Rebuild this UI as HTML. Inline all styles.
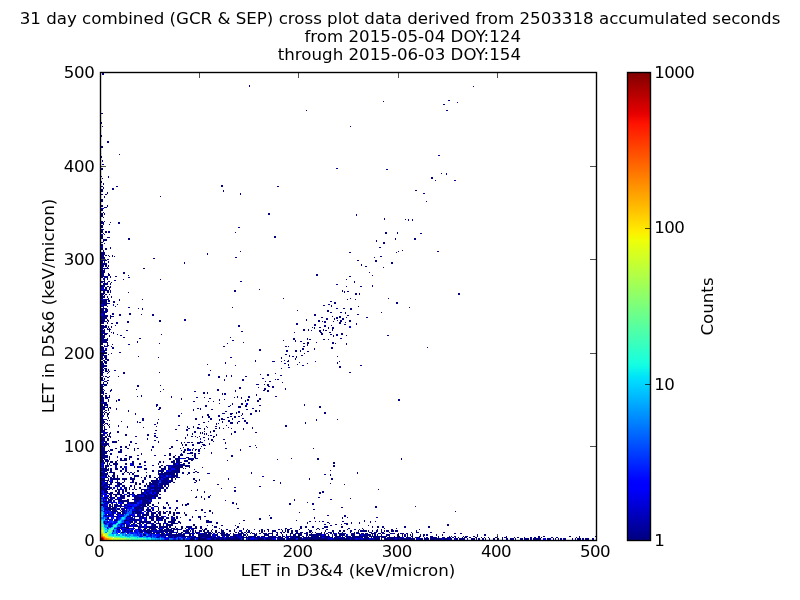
<!DOCTYPE html>
<html><head><meta charset="utf-8"><style>
html,body{margin:0;padding:0;background:#fff;width:800px;height:600px;overflow:hidden}
svg{display:block}
text{font-family:"DejaVu Sans","Liberation Sans",sans-serif;font-size:16.67px;fill:#000}
.t{letter-spacing:-0.6px}.ty{letter-spacing:-0.3px}
</style></head><body>
<svg width="800" height="600" viewBox="0 0 800 600">

<text x="400" y="24" text-anchor="middle">31 day combined (GCR &amp; SEP) cross plot data derived from 2503318 accumulated seconds</text>
<text x="521" y="42" text-anchor="end">from 2015-05-04 DOY:124</text>
<text x="521" y="60" text-anchor="end">through 2015-06-03 DOY:154</text>
<g fill="none" stroke-width="1" shape-rendering="crispEdges"><path stroke="#000080" d="M102 73.5h2m-2 1h2m145 11h1m-1 1h1m223 0h1m-26 14h2m-67 1h1m73 1h1m-15 2h2m-139 6h1m139 0h2m-347 3h2m-2 9h1m-1 1h1m0 3h1m247 0h1m-250 9h1m-1 1h1m5 5h2m-2 1h2m-8 4h2m-2 1h2m16 7h1m318 1h2m-339 1h1m-1 1h1m0 3h1m-1 1h1m-1 3h2m-3 4h2m233 0h2m-237 1h2m283 0h2m53 4h1m4 0h1m-1 1h1m-346 2h1m6 0h1m-1 1h1m322 0h2m-331 1h1m328 0h2m2 2h1m18 0h2m-355 1h1m-1 1h1m1 1h1m-1 1h1m117 1h2m-122 1h2m13 0h2m103 0h2m54 0h2m-176 1h1m-1 1h1m8 0h2m-13 1h2m9 0h2m-13 1h2m120 0h1m191 0h2m-316 1h2m120 0h1m-117 1h1m-1 1h1m132 0h1m182 0h2m-324 1h2m2 0h2m133 0h1m-137 2h1m55 0h1m-57 1h1m-4 2h2m-2 1h2m-2 1h2m323 0h1m-326 4h2m4 0h1m-7 1h2m4 0h1m-4 1h3m-4 1h1m-3 1h2m-2 1h2m0 2h1m-3 1h2m1 0h1m163 0h2m-169 1h2m1 0h1m163 0h2m86 0h1m-256 1h2m253 0h1m-256 1h2m0 1h1m280 1h1m-1 1h1m20 0h1m2 0h1m3 0h1m-5 1h1m3 0h1m-312 1h2m1 0h1m-4 1h3m6 0h1m7 0h2m-19 1h3m14 0h2m-17 1h1m5 0h1m-9 1h2m-2 1h2m-2 1h2m135 0h2m-139 2h3m-3 1h2m-2 1h2m2 0h2m1 0h2m-9 1h2m2 0h2m1 0h2m125 0h1m149 0h2m10 0h1m-295 1h1m281 0h2m10 0h1m22 0h2m-318 1h1m-4 1h2m-2 1h2m171 0h2m-175 1h2m4 0h3m164 0h2m-175 1h2m25 0h2m265 0h1m18 0h2m-313 1h4m21 0h2m265 0h1m18 0h2m-313 1h4m269 0h1m-274 1h1m272 0h1m-276 1h2m280 0h2m-281 1h1m278 0h2m-284 1h2m-2 1h2m7 2h1m268 0h2m-280 1h2m2 0h2m3 0h1m-10 1h2m2 0h2m-4 1h1m298 0h1m-300 1h1m136 0h1m157 0h1m38 0h2m-338 1h4m244 0h2m45 0h1m-296 1h4m102 0h1m-107 1h4m102 0h1m-107 1h3m1 0h2m1 0h1m3 0h1m-12 1h3m5 0h1m2 0h1m1 0h1m265 0h2m-281 1h4m130 0h2m137 0h1m-274 1h4m48 0h2m-48 1h2m-8 1h6m250 0h2m16 0h2m-276 1h2m1 0h1m3 0h1m266 0h2m-276 1h2m1 0h1m3 0h1m75 0h1m206 0h2m-292 1h6m77 0h1m206 0h2m-292 1h6m254 0h1m-261 1h3m1 0h2m1 0h1m252 0h1m-261 1h3m1 0h2m1 0h1m256 0h2m-266 1h2m4 0h1m275 0h1m-283 1h8m34 0h2m-44 1h2m-2 1h4m-4 1h4m-4 1h4m18 0h2m244 0h1m-269 1h3m4 0h1m14 0h2m-24 1h3m4 0h2m206 0h2m-217 1h3m4 0h2m18 0h1m187 0h2m54 0h1m-272 1h7m2 0h1m4 0h2m232 0h2m-250 1h2m2 0h3m2 0h1m17 0h2m-26 1h1m2 0h1m-4 1h1m2 0h1m15 0h1m36 0h1m185 0h1m-243 1h1m9 0h2m-15 1h4m3 0h2m130 0h2m112 0h1m-248 1h1m3 0h1m242 0h1m-252 1h5m2 0h1m-8 1h5m2 0h1m225 0h2m-237 1h4m267 0h1m-272 1h2m1 0h1m2 0h2m1 0h1m235 0h1m13 0h2m10 0h1m-270 1h1m1 0h2m2 0h2m-8 1h1m1 0h2m2 0h1m-6 1h3m2 0h1m149 0h1m-159 1h8m1 0h1m123 0h2m106 0h1m-240 1h2m2 0h2m1 0h1m123 0h2m106 0h1m1 0h1m2 0h2m-246 1h2m2 0h2m1 0h1m17 0h1m215 0h1m-244 1h4m250 0h2m2 0h1m98 0h2m-359 1h3m1 0h2m2 0h1m245 0h2m2 0h1m98 0h2m-359 1h2m1 0h1m-4 1h4m2 0h1m3 0h1m-11 1h4m2 0h1m3 0h1m-11 1h2m5 0h1m174 0h1m66 0h1m37 0h1m-286 1h6m10 0h1m22 0h1m204 0h1m7 0h1m-255 1h6m1 0h2m9 0h1m-19 1h6m1 0h2m3 0h2m215 0h2m-231 1h6m6 0h2m219 0h2m60 0h2m-297 1h9m224 0h2m60 0h2m-295 1h4m10 0h1m210 0h2m-227 1h4m216 0h2m6 0h1m-231 1h3m3 0h1m7 0h1m215 0h1m26 0h1m-256 1h1m24 0h2m102 0h1m176 0h1m-309 1h6m31 0h1m3 0h1m193 0h2m5 0h2m5 0h2m-251 1h3m1 0h3m34 0h1m207 0h2m-251 1h3m1 0h3m189 0h1m29 0h2m-228 1h3m1 0h3m219 0h2m-228 1h6m223 0h2m8 0h2m3 0h1m35 0h1m-279 1h2m7 0h2m15 0h2m214 0h1m-243 1h2m7 0h2m5 0h2m8 0h2m10 0h1m10 0h2m160 0h2m41 0h2m-256 1h5m2 0h1m8 0h2m31 0h2m160 0h2m31 0h2m-248 1h7m2 0h4m218 0h1m6 0h2m-240 1h6m3 0h1m210 0h2m13 0h2m1 0h2m5 0h1m19 0h2m-267 1h6m3 0h1m215 0h2m6 0h1m1 0h2m4 0h2m-243 1h4m2 0h1m76 0h2m120 0h1m19 0h2m6 0h1m7 0h2m-243 1h4m2 0h2m50 0h2m23 0h2m120 0h1m11 0h2m17 0h1m2 0h2m7 0h2m-250 1h6m1 0h1m18 0h2m30 0h2m157 0h2m2 0h1m1 0h2m7 0h1m6 0h2m7 0h2m-250 1h3m3 0h1m8 0h2m9 0h2m195 0h2m13 0h2m4 0h1m-245 1h3m3 0h1m3 0h2m3 0h2m178 0h2m41 0h2m15 0h1m-61 1h2m16 0h2m28 0h2m10 0h1m-256 1h3m1 0h2m8 0h1m122 0h2m74 0h2m8 0h2m5 0h1m-231 1h6m1 0h1m2 0h1m126 0h2m84 0h2m-225 1h6m1 0h1m2 0h1m200 0h1m1 0h1m4 0h2m7 0h1m3 0h2m-233 1h3m3 0h1m1 0h1m204 0h1m13 0h1m3 0h2m-230 1h1m2 0h4m192 0h2m3 0h1m14 0h1m8 0h1m-232 1h4m4 0h1m16 0h2m175 0h2m3 0h1m2 0h1m7 0h2m2 0h1m1 0h2m5 0h1m-232 1h4m4 0h1m131 0h2m76 0h2m-220 1h2m1 0h1m6 0h1m1 0h1m180 0h1m25 0h2m7 0h2m-230 1h7m5 0h1m207 0h2m18 0h2m-242 1h2m1 0h3m10 0h1m43 0h1m159 0h2m7 0h2m4 0h2m3 0h2m-242 1h4m4 0h1m10 0h2m211 0h1m2 0h2m8 0h1m40 0h2m-288 1h4m4 0h1m223 0h1m-233 1h4m18 0h2m105 0h1m-130 1h3m3 0h1m31 0h2m152 0h2m12 0h1m32 0h2m-241 1h7m185 0h2m12 0h1m1 0h2m12 0h2m3 0h1m-228 1h7m124 0h2m49 0h1m11 0h1m-195 1h6m30 0h1m157 0h1m4 0h2m-201 1h7m29 0h1m105 0h1m63 0h2m7 0h1m15 0h2m-233 1h2m4 0h1m51 0h1m67 0h1m75 0h2m2 0h2m23 0h2m1 0h1m10 0h1m-246 1h2m4 0h1m4 0h1m15 0h2m177 0h1m38 0h1m-240 1h2m198 0h1m-207 1h2m1 0h4m3 0h1m111 0h2m60 0h2m1 0h1m14 0h2m-204 1h3m8 0h2m217 0h2m94 0h1m-327 1h3m8 0h2m188 0h2m10 0h1m16 0h2m-232 1h3m155 0h2m41 0h2m10 0h1m-214 1h6m152 0h2m25 0h2m7 0h2m3 0h1m-198 1h2m181 0h2m7 0h2m3 0h1m6 0h2m-208 1h6m12 0h2m-20 1h6m4 0h1m192 0h1m-204 1h3m4 0h1m176 0h2m-186 1h6m182 0h1m11 0h2m-202 1h2m1 0h3m31 0h1m150 0h1m2 0h2m2 0h1m40 0h1m-237 1h2m1 0h3m51 0h1m71 0h2m49 0h1m14 0h1m-196 1h3m1 0h2m174 0h1m13 0h1m-195 1h2m2 0h4m186 0h1m-193 1h2m2 0h2m146 0h1m28 0h1m3 0h1m-188 1h2m1 0h3m148 0h1m16 0h3m6 0h1m5 0h2m26 0h1m23 0h1m-239 1h2m1 0h3m118 0h1m73 0h1m37 0h1m-237 1h3m1 0h2m118 0h1m58 0h2m21 0h1m29 0h1m-237 1h3m103 0h1m80 0h1m8 0h1m-197 1h6m128 0h1m52 0h1m13 0h2m56 0h2m-261 1h6m232 0h2m-240 1h3m184 0h2m49 0h2m-240 1h2m1 0h3m174 0h1m-181 1h3m1 0h2m1 0h1m-8 1h3m1 0h2m1 0h1m5 0h2m94 0h1m-110 1h2m2 0h3m1 0h1m-9 1h3m4 0h1m14 0h2m34 0h1m189 0h2m-250 1h2m4 0h1m15 0h2m150 0h1m-175 1h2m105 0h2m50 0h1m6 0h2m-168 1h2m105 0h2m16 0h1m4 0h1m35 0h2m11 0h2m-177 1h2m2 0h1m8 0h1m99 0h2m6 0h1m4 0h1m13 0h2m-146 1h2m4 0h2m109 0h2m-119 1h2m1 0h1m157 0h2m-163 1h2m1 0h1m119 0h1m17 0h2m31 0h1m1 0h2m-178 1h2m4 0h2m115 0h1m17 0h2m-140 1h3m158 0h1m3 0h2m-168 1h1m3 0h1m174 0h1m-180 1h1m3 0h1m-7 1h6m149 0h3m5 0h1m2 0h2m-165 1h3m30 0h2m21 0h1m106 0h2m-168 1h3m33 0h2m129 0h2m2 0h2m-173 1h2m136 0h2m17 0h1m13 0h2m-173 1h2m136 0h2m23 0h2m19 0h1m-185 1h3m7 0h1m24 0h1m26 0h1m53 0h2m45 0h2m19 0h1m-185 1h2m7 0h2m105 0h2m16 0h1m27 0h2m2 0h2m-168 1h3m6 0h1m49 0h1m33 0h2m39 0h1m31 0h2m-168 1h3m99 0h2m2 0h1m-107 1h3m1 0h2m96 0h2m2 0h1m14 0h1m1 0h2m-123 1h1m118 0h1m1 0h2m30 0h1m-156 1h2m2 0h2m2 0h1m31 0h1m114 0h1m-156 1h2m2 0h2m2 0h1m27 0h1m3 0h1m29 0h1m65 0h1m10 0h2m25 0h2m-176 1h3m1 0h5m61 0h1m24 0h2m6 0h1m29 0h1m2 0h1m3 0h1m6 0h2m-149 1h3m1 0h3m73 0h1m27 0h2m30 0h1m17 0h2m-160 1h3m4 0h1m9 0h2m61 0h1m37 0h1m4 0h1m22 0h2m10 0h2m137 0h2m-299 1h3m4 0h1m7 0h1m1 0h2m99 0h1m25 0h1m1 0h2m8 0h2m139 0h2m-299 1h3m4 0h1m7 0h1m76 0h2m13 0h1m4 0h1m31 0h1m11 0h2m-156 1h4m-6 1h6m112 0h1m12 0h1m8 0h2m-142 1h2m1 0h4m48 0h2m74 0h1m8 0h2m61 0h1m-204 1h2m1 0h4m48 0h2m47 0h2m23 0h1m14 0h2m12 0h2m43 0h1m-204 1h4m2 0h1m48 0h1m48 0h2m21 0h2m8 0h3m4 0h2m72 0h2m-220 1h7m1 0h2m48 0h2m77 0h3m78 0h2m-220 1h4m3 0h1m1 0h1m5 0h1m42 0h2m36 0h2m1 0h1m51 0h2m-153 1h4m3 0h1m7 0h1m41 0h2m33 0h1m6 0h1m10 0h2m33 0h2m-147 1h2m2 0h2m1 0h1m19 0h1m64 0h1m61 0h2m2 0h1m-159 1h2m1 0h1m23 0h1m96 0h2m11 0h2m15 0h2m2 0h1m-159 1h3m1 0h2m2 0h1m126 0h1m1 0h2m84 0h2m-225 1h2m1 0h1m2 0h2m26 0h1m45 0h1m40 0h3m5 0h3m3 0h1m5 0h1m7 0h2m72 0h2m-225 1h2m1 0h1m2 0h2m26 0h1m71 0h2m21 0h2m10 0h1m7 0h2m-151 1h3m3 0h1m70 0h2m27 0h2m9 0h2m21 0h1m-141 1h2m4 0h1m70 0h2m22 0h1m5 0h2m8 0h2m10 0h2m2 0h2m2 0h2m-139 1h2m5 0h1m93 0h1m5 0h2m17 0h2m5 0h2m-135 1h2m5 0h1m33 0h2m51 0h2m13 0h2m9 0h2m9 0h1m9 0h2m-143 1h6m35 0h2m14 0h1m36 0h2m13 0h2m7 0h1m1 0h4m7 0h1m83 0h1m20 0h1m-237 1h3m3 0h1m1 0h1m32 0h2m75 0h1m8 0h2m14 0h2m70 0h1m-216 1h4m16 0h1m15 0h1m70 0h1m13 0h1m5 0h2m8 0h2m4 0h2m-145 1h4m32 0h1m1 0h2m16 0h1m45 0h2m17 0h1m7 0h3m4 0h1m8 0h2m57 0h1m-205 1h3m1 0h3m49 0h1m58 0h1m1 0h1m11 0h3m4 0h1m8 0h2m57 0h1m-205 1h2m1 0h1m2 0h1m1 0h1m44 0h2m42 0h2m16 0h1m-116 1h3m4 0h1m9 0h1m59 0h2m46 0h1m58 0h2m-186 1h2m1 0h1m4 0h1m8 0h1m8 0h1m28 0h1m30 0h1m5 0h1m12 0h1m8 0h2m68 0h2m-186 1h2m1 0h1m4 0h1m17 0h1m15 0h1m43 0h1m5 0h1m3 0h2m8 0h1m11 0h1m8 0h1m23 0h1m-152 1h2m1 0h1m83 0h2m7 0h4m3 0h1m10 0h2m2 0h1m3 0h1m7 0h1m11 0h1m8 0h1m-152 1h2m1 0h3m68 0h2m9 0h2m16 0h1m38 0h1m-143 1h4m50 0h2m29 0h2m25 0h2m-114 1h4m12 0h2m75 0h2m8 0h1m5 0h1m2 0h2m19 0h2m-135 1h2m2 0h3m2 0h1m6 0h2m75 0h2m4 0h1m1 0h1m7 0h1m23 0h2m19 0h2m-154 1h2m4 0h2m43 0h2m36 0h1m7 0h1m1 0h1m1 0h1m1 0h1m24 0h1m-131 1h3m3 0h1m1 0h1m15 0h2m20 0h2m38 0h1m4 0h1m11 0h1m1 0h1m9 0h1m14 0h1m-131 1h3m3 0h1m1 0h1m15 0h2m20 0h2m5 0h2m31 0h1m20 0h1m1 0h2m4 0h1m-116 1h2m2 0h2m1 0h3m24 0h2m17 0h2m35 0h2m2 0h1m3 0h1m13 0h2m-114 1h6m3 0h1m45 0h2m27 0h1m11 0h1m5 0h2m8 0h1m-113 1h4m2 0h2m38 0h1m37 0h1m22 0h1m-108 1h4m2 0h2m38 0h1m60 0h1m2 0h2m10 0h2m-124 1h4m2 0h2m9 0h1m35 0h2m20 0h2m33 0h2m-112 1h2m1 0h3m5 0h5m13 0h2m26 0h1m41 0h1m12 0h1m-111 1h1m1 0h2m5 0h5m13 0h2m26 0h1m22 0h1m2 0h1m2 0h3m1 0h2m4 0h6m22 0h1m-125 1h7m27 0h2m44 0h1m15 0h3m9 0h1m15 0h1m-125 1h7m21 0h1m52 0h1m2 0h2m5 0h2m8 0h3m4 0h1m-109 1h2m1 0h3m1 0h1m20 0h1m52 0h1m2 0h2m5 0h2m9 0h3m49 0h1m-152 1h1m4 0h1m10 0h2m3 0h2m25 0h2m17 0h2m28 0h1m47 0h2m-150 1h4m15 0h2m3 0h2m25 0h2m17 0h2m10 0h1m72 0h1m-156 1h4m10 0h2m10 0h2m5 0h1m2 0h2m30 0h2m9 0h1m6 0h2m4 0h1m6 0h1m3 0h1m20 0h2m86 0h1m-213 1h4m5 0h3m7 0h2m12 0h1m16 0h1m32 0h2m1 0h1m4 0h1m2 0h2m1 0h2m40 0h1m-140 1h4m3 0h1m1 0h3m7 0h2m12 0h1m16 0h1m29 0h1m2 0h2m1 0h1m4 0h1m2 0h1m2 0h2m40 0h1m-140 1h7m1 0h1m8 0h4m61 0h2m13 0h2m-99 1h6m11 0h4m61 0h2m5 0h3m18 0h1m-111 1h6m3 0h2m29 0h1m27 0h2m16 0h6m1 0h2m2 0h2m11 0h1m-111 1h4m5 0h2m29 0h1m27 0h2m9 0h3m11 0h2m-95 1h7m17 0h2m10 0h2m15 0h2m8 0h2m3 0h2m4 0h1m4 0h3m9 0h1m1 0h2m35 0h2m-132 1h7m1 0h1m19 0h3m41 0h2m3 0h2m14 0h2m35 0h2m-132 1h7m1 0h1m19 0h3m41 0h2m3 0h2m6 0h3m5 0h2m-95 1h4m4 0h1m10 0h2m2 0h3m2 0h1m7 0h2m30 0h2m4 0h5m3 0h3m2 0h6m1 0h3m93 0h1m25 0h2m82 0h1m-301 1h2m1 0h4m1 0h1m10 0h2m2 0h3m2 0h1m7 0h2m30 0h2m4 0h5m8 0h6m83 0h1m39 0h2m82 0h1m-301 1h3m1 0h4m8 0h1m2 0h7m46 0h2m1 0h4m4 0h4m3 0h2m34 0h1m-127 1h3m1 0h4m1 0h3m2 0h2m15 0h2m10 0h2m13 0h2m2 0h1m7 0h4m1 0h4m4 0h4m-87 1h2m1 0h1m2 0h1m2 0h3m2 0h2m15 0h2m10 0h2m13 0h2m2 0h1m7 0h4m1 0h6m6 0h2m143 0h2m-232 1h2m2 0h1m1 0h1m3 0h5m7 0h2m5 0h2m5 0h2m17 0h1m14 0h3m2 0h2m3 0h2m3 0h2m143 0h2m-228 1h1m1 0h1m3 0h5m7 0h2m5 0h2m5 0h2m17 0h1m14 0h3m2 0h6m-81 1h1m1 0h4m1 0h2m3 0h2m13 0h2m12 0h2m6 0h2m7 0h2m3 0h5m2 0h17m143 0h2m-232 1h1m1 0h4m11 0h2m2 0h1m9 0h1m2 0h2m2 0h1m17 0h2m3 0h2m2 0h1m2 0h12m2 0h5m143 0h2m-232 1h1m1 0h2m13 0h2m2 0h1m9 0h1m2 0h2m2 0h1m17 0h2m3 0h2m2 0h1m2 0h12m6 0h1m12 0h1m-102 1h6m1 0h1m1 0h2m3 0h3m4 0h2m20 0h3m14 0h5m2 0h3m4 0h5m3 0h1m1 0h1m-85 1h8m1 0h2m3 0h3m4 0h2m20 0h3m14 0h5m2 0h3m4 0h5m14 0h1m-94 1h8m1 0h2m8 0h2m3 0h2m10 0h2m13 0h2m4 0h6m4 0h1m2 0h9m150 0h1m-228 1h4m3 0h2m8 0h2m3 0h2m10 0h2m13 0h2m4 0h6m4 0h1m2 0h9m15 0h2m-96 1h2m4 0h1m1 0h6m9 0h1m2 0h2m1 0h2m2 0h1m11 0h1m11 0h1m2 0h2m1 0h16m2 0h2m4 0h2m3 0h2m2 0h2m52 0h1m105 0h1m-257 1h7m5 0h2m7 0h2m5 0h1m2 0h2m24 0h17m1 0h2m4 0h2m4 0h2m17 0h3m41 0h1m105 0h1m-257 1h7m5 0h2m7 0h2m5 0h1m2 0h2m24 0h17m1 0h2m9 0h1m136 0h2m4 0h1m-230 1h3m1 0h2m1 0h1m3 0h3m2 0h1m16 0h5m7 0h1m2 0h2m8 0h2m2 0h3m2 0h1m2 0h7m152 0h1m-228 1h1m1 0h2m1 0h2m2 0h3m2 0h1m16 0h5m7 0h1m2 0h2m8 0h2m2 0h3m2 0h1m2 0h7m84 0h2m-159 1h3m2 0h2m1 0h2m2 0h1m12 0h2m2 0h1m6 0h1m2 0h2m3 0h2m3 0h2m2 0h5m3 0h9m1 0h4m-79 1h4m3 0h1m1 0h10m2 0h5m3 0h5m9 0h2m10 0h2m1 0h2m2 0h6m2 0h2m2 0h1m17 0h2m33 0h1m80 0h1m21 0h2m-232 1h4m3 0h1m1 0h10m2 0h5m3 0h5m9 0h2m10 0h2m1 0h2m2 0h6m2 0h2m2 0h1m17 0h2m4 0h1m28 0h1m80 0h1m21 0h2m-232 1h8m3 0h1m4 0h1m6 0h1m7 0h2m8 0h2m7 0h8m2 0h7m1 0h4m22 0h2m2 0h1m73 0h2m-172 1h2m2 0h1m1 0h1m2 0h1m4 0h1m6 0h1m7 0h2m8 0h2m7 0h8m2 0h7m1 0h4m23 0h1m-96 1h2m2 0h3m2 0h3m2 0h5m2 0h2m6 0h4m1 0h2m5 0h2m5 0h2m1 0h7m2 0h10m2 0h2m19 0h2m84 0h1m-180 1h2m2 0h3m2 0h2m5 0h5m13 0h2m2 0h2m5 0h1m2 0h9m1 0h9m112 0h1m49 0h1m-230 1h2m1 0h3m1 0h4m5 0h5m13 0h2m2 0h2m5 0h1m2 0h9m1 0h9m49 0h2m125 0h1m-242 1h5m1 0h1m5 0h2m1 0h2m2 0h3m5 0h2m2 0h1m9 0h2m1 0h4m3 0h4m1 0h4m1 0h2m2 0h1m-68 1h4m2 0h3m5 0h2m1 0h2m2 0h3m5 0h2m2 0h1m9 0h2m1 0h4m3 0h4m1 0h4m1 0h2m2 0h1m90 0h2m-160 1h4m2 0h5m12 0h3m2 0h1m4 0h1m4 0h2m8 0h15m2 0h2m66 0h2m-135 1h7m1 0h3m12 0h3m2 0h1m4 0h1m4 0h2m8 0h15m2 0h2m53 0h1m-121 1h9m2 0h1m4 0h5m3 0h2m2 0h1m2 0h2m1 0h2m4 0h10m3 0h4m1 0h2m3 0h2m31 0h1m180 0h1m-276 1h4m8 0h2m1 0h2m2 0h2m1 0h2m14 0h1m2 0h3m2 0h2m1 0h9m3 0h2m25 0h1m5 0h1m36 0h2m-132 1h4m7 0h2m1 0h2m2 0h2m1 0h2m14 0h1m2 0h3m2 0h2m1 0h9m3 0h2m38 0h1m29 0h2m86 0h2m-220 1h4m2 0h3m4 0h3m2 0h2m3 0h3m2 0h2m7 0h3m2 0h3m3 0h2m2 0h3m45 0h1m114 0h2m1 0h2m-223 1h2m4 0h6m4 0h3m2 0h2m3 0h3m2 0h2m7 0h3m2 0h3m3 0h2m2 0h3m160 0h2m-216 1h2m2 0h3m1 0h9m8 0h2m2 0h1m2 0h9m1 0h5m2 0h4m1 0h2m-53 1h1m1 0h2m3 0h2m3 0h5m2 0h3m4 0h5m2 0h1m2 0h14m52 0h1m-103 1h1m1 0h2m3 0h2m3 0h5m2 0h3m4 0h5m2 0h1m2 0h14m38 0h1m4 0h1m6 0h2m-106 1h4m1 0h3m1 0h2m2 0h1m2 0h4m10 0h18m2 0h2m2 0h3m34 0h2m4 0h1m6 0h2m108 0h2m-216 1h3m1 0h1m1 0h2m1 0h2m2 0h1m2 0h4m10 0h18m2 0h2m2 0h3m43 0h1m145 0h1m-248 1h1m4 0h4m3 0h2m1 0h4m5 0h2m3 0h14m1 0h5m52 0h1m89 0h1m35 0h2m-229 1h1m4 0h4m6 0h11m6 0h4m3 0h7m2 0h1m24 0h2m47 0h1m68 0h1m-192 1h6m1 0h2m6 0h11m6 0h4m3 0h7m2 0h1m24 0h2m-75 1h1m3 0h4m1 0h1m9 0h2m3 0h2m1 0h7m5 0h9m7 0h1m7 0h2m64 0h2m73 0h1m-203 1h2m5 0h1m9 0h2m3 0h2m1 0h7m5 0h9m7 0h1m7 0h2m19 0h2m43 0h2m2 0h1m52 0h2m21 0h2m-213 1h2m1 0h1m4 0h2m1 0h1m1 0h4m2 0h2m2 0h3m12 0h7m1 0h2m3 0h2m14 0h1m13 0h1m2 0h4m47 0h1m52 0h2m21 0h2m-213 1h2m1 0h1m4 0h2m1 0h1m1 0h8m2 0h3m12 0h7m1 0h2m3 0h2m14 0h1m13 0h1m2 0h2m-84 1h1m1 0h3m1 0h2m1 0h1m1 0h3m1 0h4m2 0h1m2 0h2m1 0h2m5 0h4m1 0h5m2 0h2m3 0h4m5 0h1m211 0h2m38 0h1m-309 1h4m1 0h5m3 0h1m4 0h2m7 0h10m7 0h1m6 0h1m4 0h3m10 0h2m163 0h2m32 0h2m-272 1h2m1 0h8m1 0h3m2 0h2m1 0h2m7 0h10m7 0h1m6 0h1m4 0h3m10 0h2m59 0h2m-134 1h2m1 0h8m1 0h3m2 0h3m1 0h1m8 0h4m2 0h3m2 0h5m1 0h2m4 0h1m16 0h1m25 0h2m110 0h2m-208 1h1m1 0h2m1 0h5m5 0h3m1 0h1m8 0h4m2 0h3m2 0h5m1 0h2m4 0h1m16 0h1m19 0h2m4 0h2m6 0h2m-107 1h1m6 0h7m3 0h4m1 0h1m5 0h9m6 0h2m2 0h1m4 0h2m1 0h2m2 0h1m2 0h2m1 0h2m38 0h2m244 0h1m-348 1h1m3 0h2m4 0h3m1 0h3m7 0h2m1 0h7m4 0h3m2 0h5m2 0h3m2 0h3m3 0h2m2 0h2m1 0h4m4 0h1m19 0h2m6 0h1m86 0h1m-192 1h1m3 0h2m4 0h3m1 0h3m7 0h2m1 0h7m4 0h3m2 0h5m2 0h3m2 0h3m3 0h2m2 0h2m1 0h4m4 0h1m27 0h1m-105 1h3m1 0h2m2 0h2m3 0h3m13 0h2m3 0h7m2 0h3m2 0h2m1 0h2m7 0h1m4 0h2m10 0h2m-82 1h2m1 0h3m2 0h1m3 0h1m12 0h2m5 0h2m3 0h7m2 0h3m2 0h2m1 0h2m7 0h1m4 0h2m10 0h2m82 0h1m57 0h2m15 0h2m-234 1h1m1 0h2m1 0h1m2 0h2m5 0h3m4 0h10m2 0h1m2 0h2m1 0h7m2 0h3m7 0h2m3 0h2m14 0h1m5 0h3m3 0h2m138 0h2m-239 1h2m8 0h1m8 0h1m3 0h3m6 0h2m1 0h2m2 0h1m2 0h5m2 0h8m2 0h3m4 0h2m1 0h2m2 0h1m11 0h1m5 0h3m69 0h2m42 0h1m27 0h1m4 0h1m28 0h2m-271 1h2m8 0h1m8 0h1m3 0h3m6 0h2m1 0h2m2 0h1m2 0h5m2 0h8m2 0h3m4 0h2m1 0h2m22 0h1m58 0h2m9 0h2m42 0h1m27 0h1m-238 1h2m2 0h2m1 0h1m3 0h2m8 0h1m2 0h10m2 0h1m4 0h1m4 0h3m2 0h3m2 0h2m1 0h2m5 0h5m24 0h1m58 0h2m-147 1h4m6 0h5m1 0h1m2 0h6m2 0h1m4 0h1m4 0h3m2 0h3m2 0h2m1 0h2m5 0h5m30 0h3m34 0h2m51 0h1m67 0h1m-261 1h1m2 0h1m16 0h1m4 0h4m1 0h1m1 0h1m2 0h12m3 0h2m2 0h1m5 0h2m2 0h7m3 0h2m26 0h6m97 0h2m4 0h1m3 0h1m2 0h2m18 0h2m20 0h1m5 0h1m4 0h1m-272 1h1m2 0h1m16 0h1m4 0h4m1 0h1m1 0h1m2 0h12m3 0h2m2 0h1m5 0h2m2 0h7m3 0h3m25 0h6m4 0h2m89 0h1m19 0h2m22 0h1m7 0h1m10 0h1m-267 1h1m6 0h1m10 0h4m7 0h2m2 0h4m1 0h2m2 0h5m1 0h2m2 0h5m2 0h1m2 0h2m3 0h7m2 0h1m35 0h2m21 0h1m67 0h1m21 0h1m14 0h4m3 0h1m7 0h1m-251 1h2m15 0h1m2 0h1m1 0h3m7 0h1m10 0h4m3 0h2m2 0h1m2 0h7m20 0h2m129 0h2m9 0h2m4 0h1m4 0h2m99 0h2m-340 1h2m10 0h1m4 0h3m1 0h1m3 0h4m3 0h1m10 0h4m3 0h2m2 0h1m2 0h7m20 0h2m12 0h1m4 0h1m8 0h2m12 0h1m94 0h2m36 0h1m78 0h2m-340 1h2m10 0h1m4 0h3m1 0h1m3 0h7m1 0h2m2 0h12m1 0h9m1 0h2m4 0h1m5 0h2m3 0h6m3 0h2m3 0h2m12 0h3m20 0h2m61 0h2m3 0h2m5 0h2m10 0h4m13 0h2m29 0h1m4 0h2m3 0h2m20 0h2m22 0h2m-312 1h2m1 0h8m4 0h1m4 0h3m1 0h2m2 0h12m1 0h9m1 0h2m4 0h1m5 0h2m3 0h6m3 0h2m3 0h2m12 0h3m20 0h2m61 0h2m3 0h2m5 0h2m10 0h4m13 0h2m29 0h1m4 0h2m3 0h2m20 0h2m22 0h2m-313 1h1m2 0h1m5 0h7m1 0h1m3 0h1m5 0h3m2 0h7m2 0h1m4 0h1m2 0h3m2 0h4m1 0h2m3 0h2m2 0h1m2 0h2m2 0h5m3 0h2m3 0h2m12 0h1m16 0h1m6 0h1m41 0h2m3 0h2m8 0h2m15 0h2m3 0h2m24 0h2m12 0h1m21 0h1m11 0h1m-280 1h3m1 0h1m2 0h2m12 0h2m3 0h3m1 0h3m1 0h6m2 0h4m1 0h8m1 0h9m4 0h1m2 0h1m1 0h3m8 0h1m1 0h3m5 0h1m8 0h1m4 0h2m6 0h1m8 0h1m3 0h1m6 0h1m6 0h2m4 0h2m9 0h2m1 0h1m3 0h1m1 0h3m9 0h1m8 0h1m7 0h1m2 0h1m6 0h2m19 0h1m6 0h2m3 0h1m3 0h1m13 0h1m3 0h1m9 0h2m26 0h1m-307 1h1m10 0h2m1 0h2m1 0h3m1 0h1m4 0h4m1 0h9m2 0h2m2 0h15m3 0h1m5 0h6m3 0h2m1 0h1m3 0h3m1 0h2m2 0h2m2 0h1m3 0h2m4 0h3m5 0h2m3 0h1m6 0h1m4 0h1m1 0h2m9 0h1m1 0h2m1 0h1m3 0h1m3 0h4m6 0h1m2 0h1m1 0h2m2 0h2m2 0h3m11 0h3m13 0h1m6 0h2m5 0h2m2 0h2m5 0h2m6 0h1m1 0h7m1 0h1m3 0h1m3 0h2m3 0h1m2 0h1m1 0h3m2 0h3m1 0h3m18 0h1m-304 1h1m10 0h2m1 0h2m1 0h3m1 0h1m4 0h4m1 0h9m2 0h2m2 0h15m3 0h1m5 0h6m3 0h2m1 0h1m3 0h3m1 0h2m2 0h2m2 0h1m3 0h2m4 0h3m5 0h2m3 0h1m6 0h1m4 0h1m1 0h2m9 0h1m1 0h2m1 0h1m3 0h1m3 0h4m6 0h1m2 0h1m1 0h2m2 0h2m2 0h3m11 0h3m13 0h1m6 0h2m5 0h2m2 0h2m5 0h2m6 0h1m1 0h7m1 0h1m3 0h1m3 0h2m3 0h1m2 0h1m1 0h3m2 0h3m1 0h3m18 0h1m-296 1h3m3 0h2m11 0h2m4 0h6m1 0h2m1 0h7m2 0h3m1 0h5m2 0h2m3 0h2m2 0h5m2 0h2m1 0h5m4 0h7m1 0h1m2 0h2m1 0h2m1 0h4m10 0h2m1 0h1m2 0h2m1 0h2m1 0h3m1 0h1m9 0h2m9 0h1m3 0h2m2 0h2m1 0h2m2 0h2m2 0h2m3 0h2m2 0h3m3 0h2m1 0h2m1 0h1m2 0h1m5 0h1m2 0h1m3 0h4m1 0h1m4 0h1m3 0h1m7 0h1m3 0h1m1 0h3m10 0h3m2 0h3m4 0h3m5 0h1m21 0h1m4 0h3m11 0h2m11 0h2m-302 1h1m4 0h2m1 0h4m1 0h3m2 0h4m3 0h4m4 0h1m1 0h4m1 0h2m2 0h5m2 0h1m1 0h2m1 0h1m2 0h5m1 0h4m5 0h1m2 0h5m1 0h2m2 0h1m2 0h1m4 0h6m2 0h1m3 0h1m1 0h3m1 0h1m2 0h2m2 0h4m1 0h5m4 0h1m3 0h1m8 0h3m2 0h7m2 0h4m3 0h1m4 0h6m2 0h1m1 0h2m2 0h2m1 0h2m3 0h8m6 0h3m1 0h4m1 0h3m1 0h3m3 0h5m2 0h3m1 0h3m5 0h5m3 0h1m1 0h4m2 0h2m4 0h1m41 0h2m4 0h2m-319 1h3m4 0h1m9 0h4m1 0h20m4 0h2m1 0h2m4 0h13m1 0h1m2 0h3m3 0h9m3 0h4m1 0h4m1 0h3m1 0h1m6 0h3m7 0h5m3 0h1m3 0h2m4 0h1m3 0h1m3 0h1m2 0h3m2 0h4m4 0h2m1 0h13m2 0h2m2 0h1m5 0h3m2 0h6m1 0h1m4 0h4m4 0h2m2 0h8m1 0h1m1 0h2m1 0h1m3 0h1m4 0h4m7 0h2m3 0h1m1 0h2m1 0h1m2 0h1m1 0h1m7 0h1m2 0h2m1 0h2m8 0h1m5 0h1m34 0h1m6 0h2m-343 1h3m4 0h1m9 0h4m1 0h20m4 0h2m1 0h2m4 0h13m1 0h1m2 0h3m3 0h9m3 0h4m1 0h4m1 0h3m1 0h1m6 0h3m7 0h5m3 0h1m3 0h2m4 0h1m3 0h1m3 0h1m2 0h3m2 0h4m4 0h2m1 0h13m2 0h2m2 0h1m5 0h3m2 0h6m1 0h1m4 0h4m4 0h2m2 0h8m1 0h1m1 0h2m1 0h1m3 0h1m4 0h4m7 0h2m3 0h1m1 0h2m1 0h1m2 0h1m1 0h1m7 0h1m2 0h2m1 0h2m8 0h1m5 0h1m34 0h1m6 0h2m-327 1h1m1 0h2m2 0h1m2 0h1m1 0h3m1 0h4m1 0h2m1 0h10m2 0h2m3 0h13m1 0h2m2 0h1m6 0h1m1 0h3m1 0h7m1 0h1m2 0h3m2 0h1m1 0h8m1 0h2m2 0h4m3 0h4m1 0h3m2 0h3m1 0h3m2 0h13m2 0h2m4 0h1m2 0h8m1 0h10m2 0h1m2 0h6m1 0h1m2 0h5m2 0h16m1 0h18m2 0h1m4 0h1m2 0h3m2 0h1m1 0h2m1 0h1m3 0h2m6 0h2m2 0h1m6 0h3m5 0h1m10 0h1m1 0h1m2 0h2m7 0h1m1 0h3m5 0h2m2 0h1m19 0h1m8 0h1m31 0h2m3 0h2m24 0h2m8 0h1m15 0h1m-439 1h2m5 0h2m3 0h4m1 0h2m6 0h1m2 0h1m3 0h1m1 0h12m1 0h8m1 0h4m1 0h6m2 0h5m2 0h6m2 0h11m2 0h6m1 0h2m1 0h1m2 0h9m1 0h6m2 0h1m1 0h2m2 0h11m1 0h19m2 0h5m1 0h3m1 0h5m2 0h4m1 0h14m1 0h2m1 0h5m2 0h1m1 0h7m1 0h5m1 0h11m1 0h3m4 0h4m2 0h1m2 0h5m6 0h2m2 0h7m1 0h1m3 0h3m2 0h4m1 0h2m1 0h1m2 0h1m3 0h1m1 0h3m2 0h2m4 0h2m4 0h1m2 0h1m3 0h1m6 0h2m5 0h1m1 0h3m7 0h1m2 0h2m5 0h1m5 0h2m2 0h2m2 0h2m1 0h1m9 0h2m3 0h2m18 0h1m2 0h1m-412 1h1m9 0h1m4 0h2m5 0h5m3 0h9m4 0h4m1 0h4m1 0h3m1 0h16m1 0h2m2 0h1m1 0h2m4 0h1m2 0h7m1 0h7m1 0h1m4 0h7m2 0h9m2 0h4m1 0h25m1 0h1m2 0h1m1 0h16m1 0h4m3 0h1m1 0h1m2 0h6m2 0h2m1 0h6m1 0h1m2 0h11m2 0h2m1 0h15m1 0h1m2 0h4m1 0h5m1 0h12m1 0h6m1 0h2m2 0h1m1 0h2m1 0h6m6 0h4m1 0h1m1 0h2m2 0h2m1 0h1m3 0h1m3 0h2m2 0h2m3 0h1m3 0h2m2 0h4m1 0h1m4 0h3m1 0h5m1 0h2m1 0h8m6 0h3m3 0h1m1 0h1m2 0h1m1 0h2m2 0h2m6 0h1m2 0h1m1 0h4m1 0h2m1 0h4m3 0h2m-426 1h1m9 0h1m4 0h2m5 0h5m3 0h9m4 0h4m1 0h4m1 0h3m1 0h16m1 0h2m2 0h1m1 0h2m4 0h1m2 0h7m1 0h7m1 0h1m4 0h7m2 0h9m2 0h4m1 0h25m1 0h1m2 0h1m1 0h16m1 0h4m3 0h1m1 0h1m2 0h6m2 0h2m1 0h6m1 0h1m2 0h11m2 0h2m1 0h15m1 0h1m2 0h4m1 0h5m1 0h12m1 0h6m1 0h2m2 0h1m1 0h2m1 0h6m6 0h4m1 0h1m1 0h2m2 0h2m1 0h1m3 0h1m3 0h2m2 0h2m3 0h1m3 0h2m2 0h4m1 0h1m4 0h3m1 0h5m1 0h2m1 0h8m6 0h3m3 0h1m1 0h1m2 0h1m1 0h2m2 0h2m6 0h1m2 0h1m1 0h4m1 0h2m1 0h4m3 0h2"/>
<path stroke="#0000f6" d="M101 208.5h2m-2 26h2m-2 12h2m-2 1h2m1 22h1m-1 8h1m-2 1h1m-1 1h1m-3 3h2m1 0h1m-2 4h1m-3 1h2m-2 1h2m-2 1h3m-3 10h2m-2 5h2m10 0h1m-13 1h2m10 0h1m-10 6h1m-4 2h2m-2 1h2m-2 1h2m246 11h2m-2 1h2m-250 2h2m0 3h1m1 16h2m-2 1h2m-6 2h2m0 25h1m-1 4h1m-3 5h2m1 5h1m-4 12h2m143 1h2m-2 1h2m-145 28h2m0 1h2m-3 1h1m-1 1h1m95 3h1m-1 1h1m3 1h1m-102 1h1m-3 1h2m5 1h1m-1 1h1m-6 1h1m-3 1h2m85 3h3m-3 1h3m-10 3h1m-65 3h1m-1 1h1m62 1h3m-80 4h1m-3 1h2m27 0h2m44 0h2m-77 1h3m26 0h2m44 0h2m6 0h1m-84 1h2m29 0h2m37 0h2m-72 1h2m12 0h2m8 0h2m12 0h2m28 0h2m-56 1h2m8 0h2m12 0h2m28 0h2m-46 1h2m44 0h4m-50 1h2m44 0h4m-9 1h2m1 0h2m-5 1h2m1 0h2m-68 1h2m-1 3h1m56 0h2m6 0h2m-70 1h2m1 0h1m56 0h2m6 0h2m-70 1h4m58 0h3m-5 1h2m-2 1h2m-53 1h2m56 0h1m-68 1h2m7 0h2m56 0h1m-66 1h2m-2 1h2m63 0h1m-66 1h1m3 0h1m60 0h1m-68 1h2m14 0h1m33 0h3m4 0h1m-54 1h2m10 0h1m33 0h3m4 0h1m-54 1h2m6 0h2m2 0h1m2 0h2m-9 1h2m2 0h1m2 0h2m0 1h2m34 0h1m-58 1h2m44 0h2m2 0h1m-51 1h2m44 0h2m2 0h1m-51 1h2m41 0h2m3 0h2m3 0h2m-52 1h3m37 0h2m3 0h2m3 0h2m-53 1h2m19 0h1m4 0h1m22 0h2m-53 1h2m1 0h4m24 0h2m5 0h2m1 0h2m-43 1h2m1 0h4m24 0h2m5 0h2m1 0h2m-41 1h1m8 0h1m5 0h2m4 0h1m27 0h2m-53 1h3m3 0h1m4 0h1m5 0h2m4 0h1m27 0h2m-49 1h2m5 0h1m33 0h1m-42 1h2m6 0h2m19 0h1m4 0h2m8 0h2m-38 1h2m19 0h1m4 0h2m8 0h2m-47 1h3m4 0h1m1 0h4m1 0h4m7 0h1m9 0h3m-38 1h1m2 0h2m2 0h1m4 0h1m1 0h4m7 0h1m9 0h3m-39 1h1m1 0h3m19 0h7m3 0h2m-36 1h1m1 0h3m19 0h7m3 0h2m-35 1h1m6 0h1m5 0h1m4 0h2m5 0h1m2 0h5m-33 1h3m17 0h1m2 0h5m15 0h2m3 0h2m15 0h2m-67 1h1m2 0h1m13 0h1m2 0h1m2 0h5m15 0h2m3 0h2m15 0h2m-67 1h1m2 0h1m13 0h1m7 0h1m2 0h3m4 0h2m-37 1h3m13 0h1m4 0h1m3 0h1m2 0h3m4 0h2m-34 1h2m19 0h1m12 0h1m2 0h2m3 0h2m-46 1h3m3 0h1m2 0h2m1 0h1m7 0h1m16 0h2m-39 1h3m3 0h1m2 0h2m1 0h1m7 0h1m16 0h2m-39 1h2m4 0h1m6 0h3m8 0h1m1 0h4m4 0h2m-37 1h1m2 0h1m3 0h2m5 0h6m5 0h1m2 0h3m4 0h2m-36 1h2m1 0h4m1 0h1m2 0h1m1 0h2m10 0h1m1 0h2m30 0h2m-55 1h1m1 0h1m2 0h1m1 0h2m7 0h3m4 0h1m6 0h1m2 0h2m25 0h2m-62 1h1m1 0h1m2 0h1m1 0h2m7 0h3m4 0h1m6 0h1m2 0h2m25 0h2m-66 1h2m18 0h2m10 0h2m3 0h2m13 0h2m28 0h2m-80 1h1m17 0h1m1 0h2m6 0h2m3 0h2m13 0h2m28 0h2m-83 1h1m5 0h3m8 0h4m6 0h1m-28 1h1m5 0h3m8 0h4m6 0h1m-31 1h2m2 0h2m1 0h4m10 0h3m1 0h1m20 0h1m12 0h2m-55 1h2m8 0h4m2 0h2m5 0h3m2 0h2m3 0h3m-39 1h1m2 0h1m8 0h1m3 0h1m4 0h1m1 0h3m5 0h2m3 0h3m-39 1h1m2 0h1m8 0h1m3 0h1m4 0h1m1 0h3m7 0h1m2 0h2m-39 1h1m9 0h1m23 0h1m2 0h2m-39 1h1m10 0h2m1 0h5m7 0h1m5 0h2m18 0h4m27 0h2m-70 1h2m2 0h4m1 0h3m1 0h3m2 0h2m45 0h2m-71 1h2m2 0h2m2 0h1m2 0h1m5 0h2m1 0h1m4 0h1m9 0h2m2 0h2m31 0h1m48 0h2m-123 1h2m2 0h2m2 0h1m2 0h1m5 0h2m1 0h1m4 0h1m9 0h2m2 0h2m31 0h1m48 0h2m-125 1h1m1 0h2m4 0h1m1 0h1m3 0h3m2 0h3m1 0h1m2 0h1m1 0h2m9 0h1m7 0h1m10 0h2m-49 1h2m2 0h2m4 0h1m1 0h1m7 0h1m11 0h1m6 0h2m17 0h2m5 0h2m4 0h1m1 0h2m11 0h2m120 0h2m14 0h1m-212 1h2m9 0h1m3 0h1m1 0h3m4 0h1m48 0h2m22 0h1m84 0h2m8 0h1m28 0h2m-223 1h2m9 0h1m3 0h1m1 0h3m4 0h1m48 0h2m22 0h1m84 0h2m8 0h1m28 0h2m-223 1h3m4 0h1m9 0h2m4 0h2m4 0h1m3 0h1m4 0h1m2 0h1m10 0h2m4 0h1m13 0h1m2 0h1m2 0h2m2 0h2m13 0h1m1 0h2m18 0h1m12 0h1m13 0h1m19 0h1m43 0h1m-200 1h1m4 0h1m11 0h1m4 0h1m2 0h1m1 0h1m2 0h1m1 0h2m18 0h1m8 0h1m4 0h1m7 0h1m5 0h2m6 0h2m11 0h2m6 0h1m2 0h1m1 0h2m9 0h1m9 0h1m3 0h1m31 0h2m5 0h1m9 0h2m19 0h1m37 0h1m3 0h2m6 0h1m13 0h1m-260 1h3m6 0h2m20 0h2m9 0h4m4 0h1m4 0h1m3 0h1m25 0h4m1 0h2m15 0h1m1 0h2m1 0h1m24 0h1m25 0h1m1 0h2m1 0h1m16 0h1m4 0h3m1 0h1m1 0h2m6 0h2m2 0h1m21 0h2m2 0h1m17 0h2m23 0h1m6 0h1m5 0h1m11 0h1m75 0h3m4 0h1m12 0h1m-399 1h3m6 0h2m20 0h2m9 0h4m4 0h1m4 0h1m3 0h1m25 0h4m1 0h2m15 0h1m1 0h2m1 0h1m24 0h1m25 0h1m1 0h2m1 0h1m16 0h1m4 0h3m1 0h1m1 0h2m6 0h2m2 0h1m21 0h2m2 0h1m17 0h2m23 0h1m6 0h1m5 0h1m11 0h1m75 0h3m4 0h1m12 0h1"/>
<path stroke="#001dff" d="M104 345.5h1m-2 71h1m-3 51h2m-2 4h2m63 4h2m-2 1h2m-9 4h2m-2 1h2m-3 2h1m-1 1h1m-12 3h2m-2 1h2m2 1h3m-51 2h1m-1 1h1m47 0h1m-49 1h1m47 0h1m-51 1h2m22 0h2m5 0h2m12 0h1m-43 5h1m12 0h1m-14 1h1m36 0h1m-41 1h2m6 0h1m31 0h1m-5 1h2m-2 1h2m-5 1h3m-3 1h3m-12 1h2m14 0h1m-34 4h1m-6 1h1m1 0h2m2 0h2m14 0h1m-22 1h1m4 0h2m15 0h1m7 0h1m-31 1h1m4 0h2m15 0h1m7 0h1m-10 1h1m4 0h1m-28 2h2m2 0h1m14 0h2m27 0h1m-40 1h1m7 0h1m-9 1h1m7 0h1m12 0h1m-23 1h1m2 0h2m2 0h2m5 0h1m-19 1h1m1 0h2m1 0h1m-8 1h2m2 0h3m1 0h1m-9 1h2m2 0h3m1 0h1m7 1h1m7 0h1m-25 1h2m1 0h1m9 0h3m30 0h1m-1 1h1m-43 2h2m9 0h1m-7 1h3m-1 2h2m19 0h1m-22 1h2m19 0h1m-9 1h1m4 0h1m-23 1h1m4 0h1m12 0h1m2 0h1m1 0h2m3 0h2m2 0h3m3 0h1m-14 1h2m9 0h2m3 0h2m1 0h1m190 0h1m-211 1h2m9 0h2m3 0h2m1 0h1m190 0h1m-209 1h1m6 0h1m1 0h4m1 0h2m1 0h1m3 0h1m-2 1h1m1 0h3m2 0h2m19 0h2m1 0h1m33 0h1m-61 1h1m8 0h1m5 0h2m5 0h4m51 0h1m5 0h1m16 0h1m21 0h1m9 0h2m-134 1h1m8 0h1m5 0h2m5 0h4m51 0h1m5 0h1m16 0h1m21 0h1m9 0h2"/>
<path stroke="#0052ff" d="M159 482.5h2m-60 15h2m-2 2h2m-2 1h2m0 3h1m-1 4h1m28 0h2m-18 1h1m15 0h2m-18 1h1m10 0h2m1 0h2m-31 1h2m24 0h2m1 0h2m-5 1h1m2 0h2m-3 1h3m-3 1h3m-29 2h1m20 0h1m2 0h2m-26 2h1m1 0h2m-4 1h1m1 0h2m15 2h2m-21 1h1m8 0h1m9 0h2m-21 1h1m8 0h1m9 0h2m-17 1h2m11 0h1m-14 1h1m4 1h1m4 0h3m2 0h2m-12 1h1m4 0h3m2 0h2m-16 2h1m7 1h1m13 0h1m-11 1h1m-1 1h1m-9 1h1m4 0h1m7 0h1m7 0h1m4 0h1m-17 1h2m10 0h1m3 0h1m-14 1h2m6 0h4m2 0h1m12 0h1m-28 1h2m6 0h4m2 0h1m12 0h1m-1 1h1m2 0h1m-3 1h3m21 0h1m1 0h2m-9 1h1m3 0h2m4 0h1m-11 1h1m3 0h2m4 0h1"/>
<path stroke="#006cff" d="M101 507.5h2m0 1h1m-1 1h1m23 3h2m-2 1h2m-25 1h1m21 2h1m-26 1h2m22 0h1m-25 1h2m22 0h1m-6 1h1m-17 1h3m11 0h2m-3 1h1m-1 1h1m-14 2h1m3 3h1m4 6h1m6 0h1m21 0h1m-14 1h1m12 0h1m3 0h1m-18 1h1m12 0h1m3 0h1m13 2h1m-2 1h1m1 0h3m6 0h2m9 0h1m3 0h1m9 0h1m-37 1h1m1 0h3m6 0h2m9 0h1m3 0h1m9 0h1"/>
<path stroke="#0086ff" d="M101 503.5h2m-2 3h2m-2 2h2m-2 1h2m26 2h1m-27 3h1m20 0h1m0 1h1m-2 4h1m-4 2h1m-1 1h1m-19 1h1m0 2h3m-3 1h3m-2 1h2m9 0h1m-10 3h1m6 0h2m-9 1h1m6 0h2m-11 1h2m6 0h3m-2 1h3m4 0h1m3 0h1m3 0h1m-14 1h1m5 0h2m6 0h1m16 0h1m-32 1h1m5 0h2m6 0h1m16 0h1m-21 1h2m15 0h2m1 1h1m7 1h1m1 0h2m10 0h1m-15 1h1m1 0h2m10 0h1"/>
<path stroke="#00a0ff" d="M101 502.5h2m-2 9h2m0 1h1m-1 1h1m22 1h3m-3 1h1m-3 1h2m-22 1h1m16 0h1m-18 1h1m16 0h1m-19 1h1m17 1h1m-9 4h1m0 3h2m-3 2h3m4 3h1m-3 2h2m7 0h2m-11 1h2m7 0h2m5 1h3m1 0h1m4 0h1m-7 1h1m8 0h1m3 0h1m1 0h1m-2 1h1m-1 1h1"/>
<path stroke="#00baff" d="M103 510.5h1m-3 5h2m21 2h1m-1 1h1m-24 1h2m18 0h3m-21 1h1m12 3h1m-3 1h2m1 0h1m-11 1h1m-1 1h1m3 1h1m-7 2h4m3 1h1m-1 1h1m-2 2h1m12 0h1m-12 1h1m3 0h1m6 0h1m6 0h2m-20 1h1m3 0h1m6 0h1m6 0h2m-8 1h1m3 0h1m1 0h3m3 0h1m1 1h3m1 0h3m6 1h3m1 0h1m3 0h1m-9 1h3m1 0h1m3 0h1"/>
<path stroke="#00d4ff" d="M101 512.5h2m-2 1h2m1 6h1m15 1h1m-1 1h1m-1 1h1m-3 1h2m-16 4h1m7 7h1m-1 1h1m13 1h1m2 1h1m18 0h2m-3 1h1m-1 1h1"/>
<path stroke="#07efef" d="M101 514.5h2m-2 2h2m19 1h2m-2 1h2m-23 2h2m0 4h1m9 1h1m2 0h1m-4 1h1m2 0h1m-5 1h1m-9 1h3m2 0h2m-6 2h2m-2 1h2m2 3h3m8 0h2m-13 1h3m8 0h2m-2 1h2m2 0h1m5 0h1m-1 1h1m4 0h2m1 0h1m3 0h1m3 1h1m1 0h2m-4 1h1m1 0h2"/>
<path stroke="#1cffda" d="M118 521.5h2m-2 1h2m-17 3h1m-1 1h1m0 3h1m4 0h2m-2 4h2m3 1h2m-2 1h2m-3 1h1m3 0h3m2 1h2m3 0h2m5 0h1m2 1h1m-1 1h1"/>
<path stroke="#32ffc5" d="M101 521.5h2m-2 1h2m14 1h1m-15 4h1m9 1h1m-10 2h1m-1 1h1m6 1h1m-4 2h1m-1 1h1m5 1h2m6 0h2m-3 1h1m4 0h1m4 1h2m2 0h2m6 0h3m4 0h1m-20 1h2m2 0h2m6 0h3m4 0h1"/>
<path stroke="#47ffb0" d="M101 523.5h2m13 1h1m-3 1h2m-2 1h2m-5 2h1m-4 2h1m2 0h1m-4 1h1m2 0h1m-8 1h1m4 0h2m1 4h1m3 0h1m3 1h1m10 0h3m-1 1h1m4 0h2m-7 1h1m4 0h2"/>
<path stroke="#5cff9b" d="M101 525.5h2m-2 1h2m10 1h1m-2 1h1m-2 1h2m-2 7h1m12 1h2m8 1h1m5 0h3m-9 1h1m5 0h3"/>
<path stroke="#71ff86" d="M103 528.5h1m-1 1h1m5 1h2m-2 1h2m-4 1h1m1 4h2m5 1h2m8 1h3m1 0h1m-5 1h3m1 0h1"/>
<path stroke="#86ff71" d="M101 524.5h2m-2 4h2m0 2h1m-1 1h1m-1 1h1m4 1h1m2 4h1m2 0h2m2 0h2m9 1h1m-1 1h1"/>
<path stroke="#9bff5c" d="M108 532.5h1m-5 1h3m0 3h2m3 1h1m7 1h1m4 0h1m-6 1h1m4 0h1"/>
<path stroke="#b0ff47" d="M101 527.5h2m-2 2h2m4 4h1m-1 1h1m-1 1h1m13 3h4m-4 1h4"/>
<path stroke="#c5ff32" d="M103 533.5h1m1 1h2m-2 1h2m1 2h3m2 1h3m1 0h3m-7 1h3m1 0h3"/>
<path stroke="#effe07" d="M101 530.5h2m-2 1h2m0 3h2m-2 1h2m0 1h2m0 1h1m4 1h1m3 0h1m-5 1h1m3 0h1"/>
<path stroke="#ffe600" d="M101 532.5h2m8 6h1m-1 1h1"/>
<path stroke="#ffce00" d="M101 533.5h2m2 4h2m2 1h2m-2 1h2"/>
<path stroke="#ffb500" d="M104 536.5h1m3 2h1m-1 1h1"/>
<path stroke="#ff9d00" d="M101 534.5h2m-2 1h2m0 1h1m3 2h1m-1 1h1"/>
<path stroke="#ff8500" d="M104 537.5h1m0 1h2m-2 1h2"/>
<path stroke="#ff6d00" d="M101 536.5h2"/>
<path stroke="#ff5500" d="M103 537.5h1m0 1h1m-1 1h1"/>
<path stroke="#f60c00" d="M101 537.5h2m0 1h1m-1 1h1"/>
<path stroke="#800000" d="M101 538.5h2m-2 1h2"/></g>
<g stroke="#000" stroke-width="0.7" fill="none">
<path d="M100.5 540V534M100.5 72V78"/>
<path d="M100 540.5H106M596 540.5H590"/>
<path d="M199.5 540V534M199.5 72V78"/>
<path d="M100 446.5H106M596 446.5H590"/>
<path d="M298.5 540V534M298.5 72V78"/>
<path d="M100 353.5H106M596 353.5H590"/>
<path d="M398.5 540V534M398.5 72V78"/>
<path d="M100 259.5H106M596 259.5H590"/>
<path d="M497.5 540V534M497.5 72V78"/>
<path d="M100 166.5H106M596 166.5H590"/>
<path d="M596.5 540V534M596.5 72V78"/>
<path d="M100 72.5H106M596 72.5H590"/>
</g>
<rect x="100.5" y="72.5" width="496" height="468" stroke="#000" stroke-width="1.39" fill="none"/>
<text class="t" x="99.0" y="557" text-anchor="middle">0</text>
<text class="ty" x="94.6" y="546.0" text-anchor="end">0</text>
<text class="t" x="198.2" y="557" text-anchor="middle">100</text>
<text class="ty" x="94.6" y="452.4" text-anchor="end">100</text>
<text class="t" x="297.4" y="557" text-anchor="middle">200</text>
<text class="ty" x="94.6" y="358.8" text-anchor="end">200</text>
<text class="t" x="396.7" y="557" text-anchor="middle">300</text>
<text class="ty" x="94.6" y="265.2" text-anchor="end">300</text>
<text class="t" x="495.9" y="557" text-anchor="middle">400</text>
<text class="ty" x="94.6" y="171.6" text-anchor="end">400</text>
<text class="t" x="595.0" y="557" text-anchor="middle">500</text>
<text class="ty" x="94.6" y="78.0" text-anchor="end">500</text>
<text x="348" y="576" text-anchor="middle">LET in D3&amp;4 (keV/micron)</text>
<text transform="translate(54 306) rotate(-90)" text-anchor="middle">LET in D5&amp;6 (keV/micron)</text>
<defs><linearGradient id="cb" x1="0" y1="0" x2="0" y2="1"><stop offset="0.00" stop-color="#800000"/><stop offset="0.01" stop-color="#8b0000"/><stop offset="0.02" stop-color="#970000"/><stop offset="0.03" stop-color="#a20000"/><stop offset="0.04" stop-color="#ae0000"/><stop offset="0.05" stop-color="#b90000"/><stop offset="0.06" stop-color="#c50000"/><stop offset="0.07" stop-color="#d10000"/><stop offset="0.08" stop-color="#dc0000"/><stop offset="0.09" stop-color="#e80000"/><stop offset="0.10" stop-color="#f30900"/><stop offset="0.11" stop-color="#ff1300"/><stop offset="0.12" stop-color="#ff1c00"/><stop offset="0.13" stop-color="#ff2600"/><stop offset="0.14" stop-color="#ff2f00"/><stop offset="0.15" stop-color="#ff3900"/><stop offset="0.16" stop-color="#ff4200"/><stop offset="0.17" stop-color="#ff4c00"/><stop offset="0.18" stop-color="#ff5500"/><stop offset="0.19" stop-color="#ff5e00"/><stop offset="0.20" stop-color="#ff6800"/><stop offset="0.21" stop-color="#ff7100"/><stop offset="0.22" stop-color="#ff7b00"/><stop offset="0.23" stop-color="#ff8400"/><stop offset="0.24" stop-color="#ff8e00"/><stop offset="0.25" stop-color="#ff9700"/><stop offset="0.26" stop-color="#ffa100"/><stop offset="0.27" stop-color="#ffaa00"/><stop offset="0.28" stop-color="#ffb300"/><stop offset="0.29" stop-color="#ffbd00"/><stop offset="0.30" stop-color="#ffc600"/><stop offset="0.31" stop-color="#ffd000"/><stop offset="0.32" stop-color="#ffd900"/><stop offset="0.33" stop-color="#ffe300"/><stop offset="0.34" stop-color="#ffec00"/><stop offset="0.35" stop-color="#f7f600"/><stop offset="0.36" stop-color="#efff08"/><stop offset="0.37" stop-color="#e6ff10"/><stop offset="0.38" stop-color="#deff19"/><stop offset="0.39" stop-color="#d6ff21"/><stop offset="0.40" stop-color="#ceff29"/><stop offset="0.41" stop-color="#c5ff31"/><stop offset="0.42" stop-color="#bdff3a"/><stop offset="0.43" stop-color="#b5ff42"/><stop offset="0.44" stop-color="#adff4a"/><stop offset="0.45" stop-color="#a5ff52"/><stop offset="0.46" stop-color="#9cff5a"/><stop offset="0.47" stop-color="#94ff63"/><stop offset="0.48" stop-color="#8cff6b"/><stop offset="0.49" stop-color="#84ff73"/><stop offset="0.50" stop-color="#7bff7b"/><stop offset="0.51" stop-color="#73ff84"/><stop offset="0.52" stop-color="#6bff8c"/><stop offset="0.53" stop-color="#63ff94"/><stop offset="0.54" stop-color="#5aff9c"/><stop offset="0.55" stop-color="#52ffa5"/><stop offset="0.56" stop-color="#4affad"/><stop offset="0.57" stop-color="#42ffb5"/><stop offset="0.58" stop-color="#3affbd"/><stop offset="0.59" stop-color="#31ffc5"/><stop offset="0.60" stop-color="#29ffce"/><stop offset="0.61" stop-color="#21ffd6"/><stop offset="0.62" stop-color="#19ffde"/><stop offset="0.63" stop-color="#10fae6"/><stop offset="0.64" stop-color="#08f0ef"/><stop offset="0.65" stop-color="#00e5f7"/><stop offset="0.66" stop-color="#00dbff"/><stop offset="0.67" stop-color="#00d1ff"/><stop offset="0.68" stop-color="#00c7ff"/><stop offset="0.69" stop-color="#00bdff"/><stop offset="0.70" stop-color="#00b3ff"/><stop offset="0.71" stop-color="#00a8ff"/><stop offset="0.72" stop-color="#009eff"/><stop offset="0.73" stop-color="#0094ff"/><stop offset="0.74" stop-color="#008aff"/><stop offset="0.75" stop-color="#0080ff"/><stop offset="0.76" stop-color="#0075ff"/><stop offset="0.77" stop-color="#006bff"/><stop offset="0.78" stop-color="#0061ff"/><stop offset="0.79" stop-color="#0057ff"/><stop offset="0.80" stop-color="#004cff"/><stop offset="0.81" stop-color="#0042ff"/><stop offset="0.82" stop-color="#0038ff"/><stop offset="0.83" stop-color="#002eff"/><stop offset="0.84" stop-color="#0024ff"/><stop offset="0.85" stop-color="#001aff"/><stop offset="0.86" stop-color="#000fff"/><stop offset="0.87" stop-color="#0005ff"/><stop offset="0.88" stop-color="#0000ff"/><stop offset="0.89" stop-color="#0000ff"/><stop offset="0.90" stop-color="#0000f3"/><stop offset="0.91" stop-color="#0000e8"/><stop offset="0.92" stop-color="#0000dc"/><stop offset="0.93" stop-color="#0000d1"/><stop offset="0.94" stop-color="#0000c5"/><stop offset="0.95" stop-color="#0000b9"/><stop offset="0.96" stop-color="#0000ae"/><stop offset="0.97" stop-color="#0000a2"/><stop offset="0.98" stop-color="#000097"/><stop offset="0.99" stop-color="#00008b"/><stop offset="1.00" stop-color="#000080"/></linearGradient></defs>
<rect x="627" y="72" width="24" height="468" fill="url(#cb)"/>
<rect x="627.5" y="72.5" width="23" height="468" fill="none" stroke="#000" stroke-width="1.39"/>
<path d="M651 540.5H645" stroke="#000" stroke-width="0.7"/>
<text class="t" x="654.2" y="545.7">1</text>
<path d="M651 384.5H645" stroke="#000" stroke-width="0.7"/>
<text class="t" x="654.2" y="389.7">10</text>
<path d="M651 228.5H645" stroke="#000" stroke-width="0.7"/>
<text class="t" x="654.2" y="232.6">100</text>
<path d="M651 72.5H645" stroke="#000" stroke-width="0.7"/>
<text class="t" x="654.2" y="77.6">1000</text>
<text transform="translate(713 306.5) rotate(-90)" text-anchor="middle">Counts</text>
</svg></body></html>
